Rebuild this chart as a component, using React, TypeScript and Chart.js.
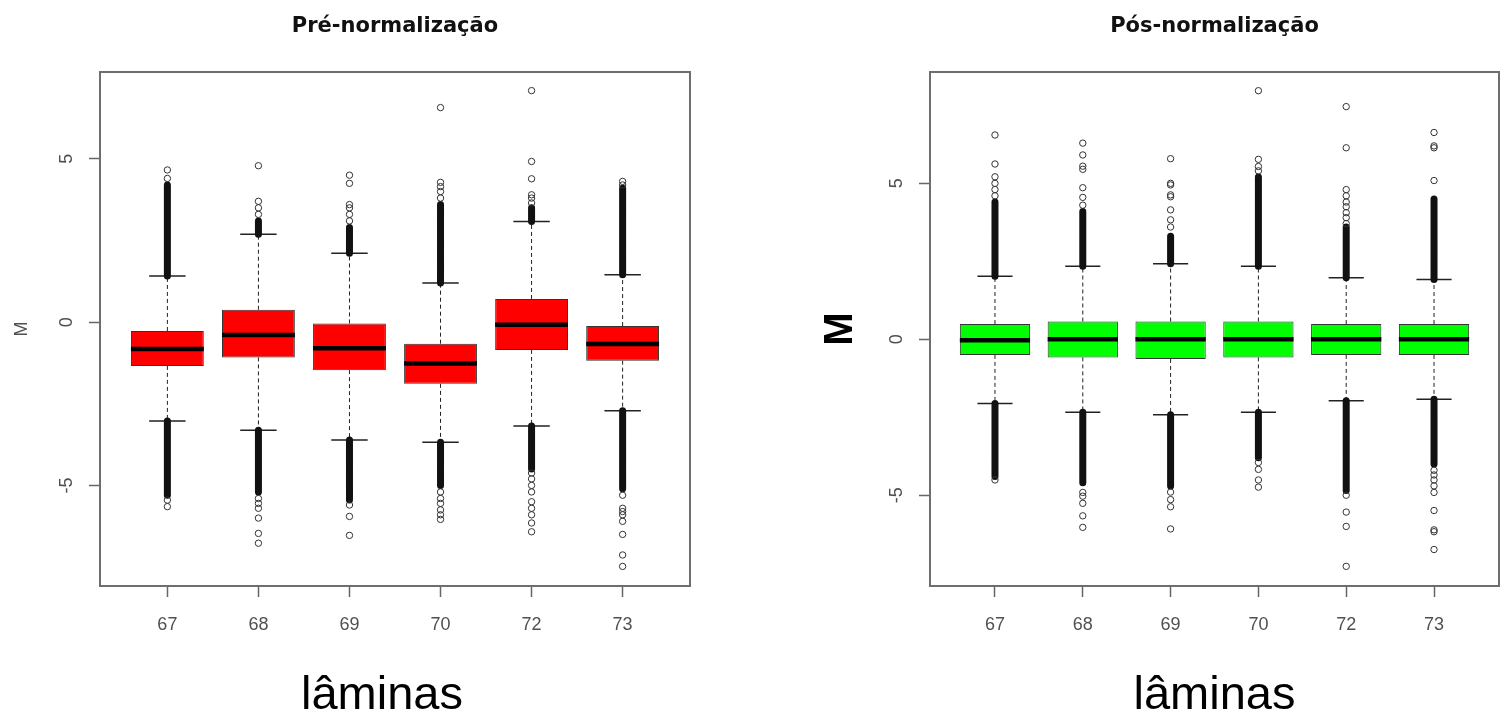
import React, { useEffect, useRef } from 'react';
import { Chart, registerables } from 'chart.js';

Chart.register(...registerables);

// ---------- data ----------
const categories = ['67', '68', '69', '70', '72', '73'];
const yTickValues = [-5, 0, 5];

// Pré-normalização
const preQ1 = [-1.34, -1.08, -1.47, -1.89, -0.85, -1.18];
const preMedian = [-0.82, -0.39, -0.80, -1.27, -0.08, -0.67];
const preQ3 = [-0.27, 0.38, -0.04, -0.66, 0.71, -0.12];
const preLowerWhisker = [-3.03, -3.31, -3.61, -3.68, -3.18, -2.71];
const preUpperWhisker = [1.41, 2.69, 2.11, 1.20, 3.08, 1.45];
// end of the solid (overlapping) column of outliers beyond each whisker
const preDenseUpperEnd = [4.2, 3.1, 2.9, 3.6, 3.5, 4.1];
const preDenseLowerEnd = [-5.3, -5.2, -5.45, -5.0, -4.5, -5.1];
const preOutliers = [
  [4.4, 4.66, -5.45, -5.65],
  [3.3, 3.5, 3.7, 4.79, -5.4, -5.55, -5.7, -6.0, -6.47, -6.77],
  [3.1, 3.3, 3.5, 3.6, 4.25, 4.5, -5.6, -5.95, -6.53],
  [3.8, 4.0, 4.15, 4.28, 6.57, -5.2, -5.4, -5.55, -5.75, -5.9, -6.04],
  [3.65, 3.8, 3.9, 4.39, 4.92, 7.09, -4.62, -4.8, -5.0, -5.2, -5.5, -5.7, -5.9, -6.15, -6.42],
  [4.2, 4.31, -5.3, -5.7, -5.8, -5.9, -6.1, -6.5, -7.13, -7.48],
];

// Pós-normalização
const postQ1 = [-0.50, -0.58, -0.63, -0.58, -0.50, -0.50];
const postMedian = [-0.03, 0.0, 0.0, 0.0, 0.0, 0.0];
const postQ3 = [0.49, 0.57, 0.57, 0.57, 0.49, 0.49];
const postLowerWhisker = [-2.06, -2.34, -2.42, -2.34, -1.97, -1.92];
const postUpperWhisker = [2.02, 2.34, 2.42, 2.34, 1.97, 1.92];
const postDenseUpperEnd = [4.4, 4.1, 3.3, 5.2, 3.6, 4.5];
const postDenseLowerEnd = [-4.4, -4.6, -4.7, -3.8, -4.85, -4.0];
const postOutliers = [
  [4.6, 4.8, 5.0, 5.21, 5.62, 6.55, -4.51],
  [4.3, 4.55, 4.86, 5.45, 5.55, 5.91, 6.29, -4.91, -5.03, -5.26, -5.66, -6.03],
  [3.6, 3.83, 4.15, 4.57, 4.63, 4.95, 5.0, 5.79, -4.9, -5.14, -5.37, -6.08],
  [5.4, 5.54, 5.77, 7.97, -3.95, -4.17, -4.51, -4.74],
  [3.71, 3.9, 4.06, 4.25, 4.4, 4.6, 4.8, 6.14, 7.46, -5.0, -5.54, -6.0, -7.28],
  [5.09, 6.14, 6.2, 6.63, -4.2, -4.35, -4.51, -4.7, -4.91, -5.49, -6.11, -6.17, -6.74],
];

// axis limits (R default: data range extended by 4%)
const xMin = 0.26;
const xMax = 6.74;
const preYMin = -8.08;
const preYMax = 7.66;
const postYMin = -7.91;
const postYMax = 8.57;

// ---------- styling ----------
const BOX_HALF = 0.4; // boxwex 0.8
const STAPLE_HALF = 0.2; // staplewex 0.5
const CANVAS_W = 752;
const CANVAS_H = 717;
const PLOT_TOP = 72;
const PLOT_BOTTOM = 586;
const TICK_FONT = { family: '"Liberation Sans", Arial, sans-serif', size: 18 };
const TICK_COLOR = '#505050';

const plotBox = {
  id: 'plotBox',
  afterDatasetsDraw(chart: any) {
    const { ctx, chartArea: a } = chart;
    ctx.save();
    ctx.strokeStyle = '#6e6e6e';
    ctx.lineWidth = 2;
    ctx.strokeRect(a.left, a.top, a.right - a.left, a.bottom - a.top);
    ctx.restore();
  },
};

type PanelSpec = {
  title: string;
  q1: number[];
  median: number[];
  q3: number[];
  lower: number[];
  upper: number[];
  denseUpper: number[];
  denseLower: number[];
  outliers: number[][];
  yMin: number;
  yMax: number;
  fill: string;
  plotLeft: number;
  plotRight: number;
  xTitle: string;
  yTitleFont: any;
  yTitleColor: string;
  yTitlePad: number;
};

function buildConfig(p: PanelSpec): any {
  const xs = categories.map((_, i) => i + 1);
  const gap = (x: number) => ({ x, y: null });

  const whiskers = xs.flatMap((x, i) => [
    { x, y: p.q3[i] }, { x, y: p.upper[i] }, gap(x),
    { x, y: p.q1[i] }, { x, y: p.lower[i] }, gap(x),
  ]);
  const staples = xs.flatMap((x, i) => [
    { x: x - STAPLE_HALF, y: p.upper[i] }, { x: x + STAPLE_HALF, y: p.upper[i] }, gap(x),
    { x: x - STAPLE_HALF, y: p.lower[i] }, { x: x + STAPLE_HALF, y: p.lower[i] }, gap(x),
  ]);
  const medians = xs.flatMap((x, i) => [
    { x: x - BOX_HALF, y: p.median[i] }, { x: x + BOX_HALF, y: p.median[i] }, gap(x),
  ]);
  const dense = xs.flatMap((x, i) => [
    { x, y: p.upper[i] }, { x, y: p.denseUpper[i] }, gap(x),
    { x, y: p.lower[i] }, { x, y: p.denseLower[i] }, gap(x),
  ]);
  const points = xs.flatMap((x, i) => p.outliers[i].map((y) => ({ x, y })));
  const boxes = xs.map((x, i) => ({ x, y: [p.q1[i], p.q3[i]] }));

  const lineBase = { pointRadius: 0, spanGaps: false, fill: false, tension: 0 };

  return {
    type: 'bar',
    data: {
      datasets: [
        {
          type: 'line', data: whiskers, borderColor: '#222', borderWidth: 1,
          borderDash: [4, 3], order: 6, ...lineBase,
        },
        {
          type: 'bar', data: boxes, backgroundColor: p.fill, borderColor: '#333',
          borderWidth: 1, borderSkipped: false, categoryPercentage: 1,
          barPercentage: 2 * BOX_HALF, order: 5,
        },
        {
          type: 'line', data: medians, borderColor: '#000', borderWidth: 4.5,
          order: 4, ...lineBase,
        },
        {
          type: 'line', data: staples, borderColor: '#222', borderWidth: 1.5,
          order: 3, ...lineBase,
        },
        {
          type: 'line', data: dense, borderColor: '#111', borderWidth: 7,
          borderCapStyle: 'round', order: 2, ...lineBase,
        },
        {
          type: 'scatter', data: points, pointStyle: 'circle', pointRadius: 3.2,
          pointBackgroundColor: 'rgba(0,0,0,0)', pointBorderColor: '#333',
          pointBorderWidth: 1, showLine: false, order: 1,
        },
      ],
    },
    options: {
      responsive: false,
      animation: false,
      events: [],
      layout: { padding: { left: 0, right: CANVAS_W - p.plotRight, top: 0, bottom: 0 } },
      plugins: {
        legend: { display: false },
        tooltip: { enabled: false },
        title: {
          display: true,
          text: p.title,
          fullSize: false,
          color: '#111',
          font: { family: '"DejaVu Sans", sans-serif', weight: 'bold', size: 21, lineHeight: 1.2 },
          padding: { top: 14.4, bottom: PLOT_TOP - 14.4 - 25.2 },
        },
      },
      scales: {
        x: {
          type: 'linear',
          min: xMin,
          max: xMax,
          offset: false,
          afterBuildTicks: (s: any) => { s.ticks = xs.map((v) => ({ value: v })); },
          afterFit: (s: any) => { s.height = CANVAS_H - PLOT_BOTTOM; },
          ticks: {
            callback: (_v: any, i: number) => categories[i],
            font: TICK_FONT, color: TICK_COLOR, padding: 17,
            autoSkip: false, maxRotation: 0, minRotation: 0,
          },
          grid: {
            display: true, offset: false, drawOnChartArea: false, drawTicks: true,
            tickLength: 11, tickColor: '#666', tickWidth: 1.5,
          },
          border: { display: false },
          title: {
            display: true,
            text: p.xTitle,
            color: '#000',
            font: { family: '"Liberation Sans", Arial, sans-serif', size: 47, lineHeight: 0.9 },
            padding: { top: 0, bottom: 0 },
          },
        },
        y: {
          type: 'linear',
          min: p.yMin,
          max: p.yMax,
          afterBuildTicks: (s: any) => { s.ticks = yTickValues.map((v) => ({ value: v })); },
          afterFit: (s: any) => { s.width = p.plotLeft; },
          ticks: {
            font: TICK_FONT, color: TICK_COLOR, padding: 14,
            minRotation: 90, maxRotation: 90, crossAlign: 'center',
          },
          grid: {
            display: true, drawOnChartArea: false, drawTicks: true,
            tickLength: 11, tickColor: '#666', tickWidth: 1.5,
          },
          border: { display: false },
          title: {
            display: true,
            text: 'M',
            color: p.yTitleColor,
            font: p.yTitleFont,
            padding: { top: p.yTitlePad, bottom: 0 },
          },
        },
      },
    },
    plugins: [plotBox],
  };
}

function Panel({ spec }: { spec: PanelSpec }) {
  const ref = useRef<HTMLCanvasElement | null>(null);
  useEffect(() => {
    if (!ref.current) return;
    const chart = new Chart(ref.current, buildConfig(spec));
    return () => chart.destroy();
  }, [spec]);
  return <canvas ref={ref} width={CANVAS_W} height={CANVAS_H} style={{ display: 'block' }} />;
}

const preSpec: PanelSpec = {
  title: 'Pré-normalização',
  q1: preQ1, median: preMedian, q3: preQ3,
  lower: preLowerWhisker, upper: preUpperWhisker,
  denseUpper: preDenseUpperEnd, denseLower: preDenseLowerEnd,
  outliers: preOutliers,
  yMin: preYMin, yMax: preYMax,
  fill: '#ff0000',
  plotLeft: 100, plotRight: 690,
  xTitle: 'lâminas  ',
  yTitleFont: { family: '"Liberation Sans", Arial, sans-serif', size: 18, lineHeight: 1.2 },
  yTitleColor: TICK_COLOR,
  yTitlePad: 11,
};

const postSpec: PanelSpec = {
  title: 'Pós-normalização',
  q1: postQ1, median: postMedian, q3: postQ3,
  lower: postLowerWhisker, upper: postUpperWhisker,
  denseUpper: postDenseUpperEnd, denseLower: postDenseLowerEnd,
  outliers: postOutliers,
  yMin: postYMin, yMax: postYMax,
  fill: '#00ff00',
  plotLeft: 178, plotRight: 748,
  xTitle: 'lâminas',
  yTitleFont: { family: '"Liberation Sans", Arial, sans-serif', size: 40, weight: 'bold', lineHeight: 1 },
  yTitleColor: '#000',
  yTitlePad: 69,
};

export default function App() {
  return (
    <div
      style={{
        position: 'fixed', left: 0, top: 0, width: 1504, height: 717,
        display: 'flex', background: '#fff',
      }}
    >
      <Panel spec={preSpec} />
      <Panel spec={postSpec} />
    </div>
  );
}
